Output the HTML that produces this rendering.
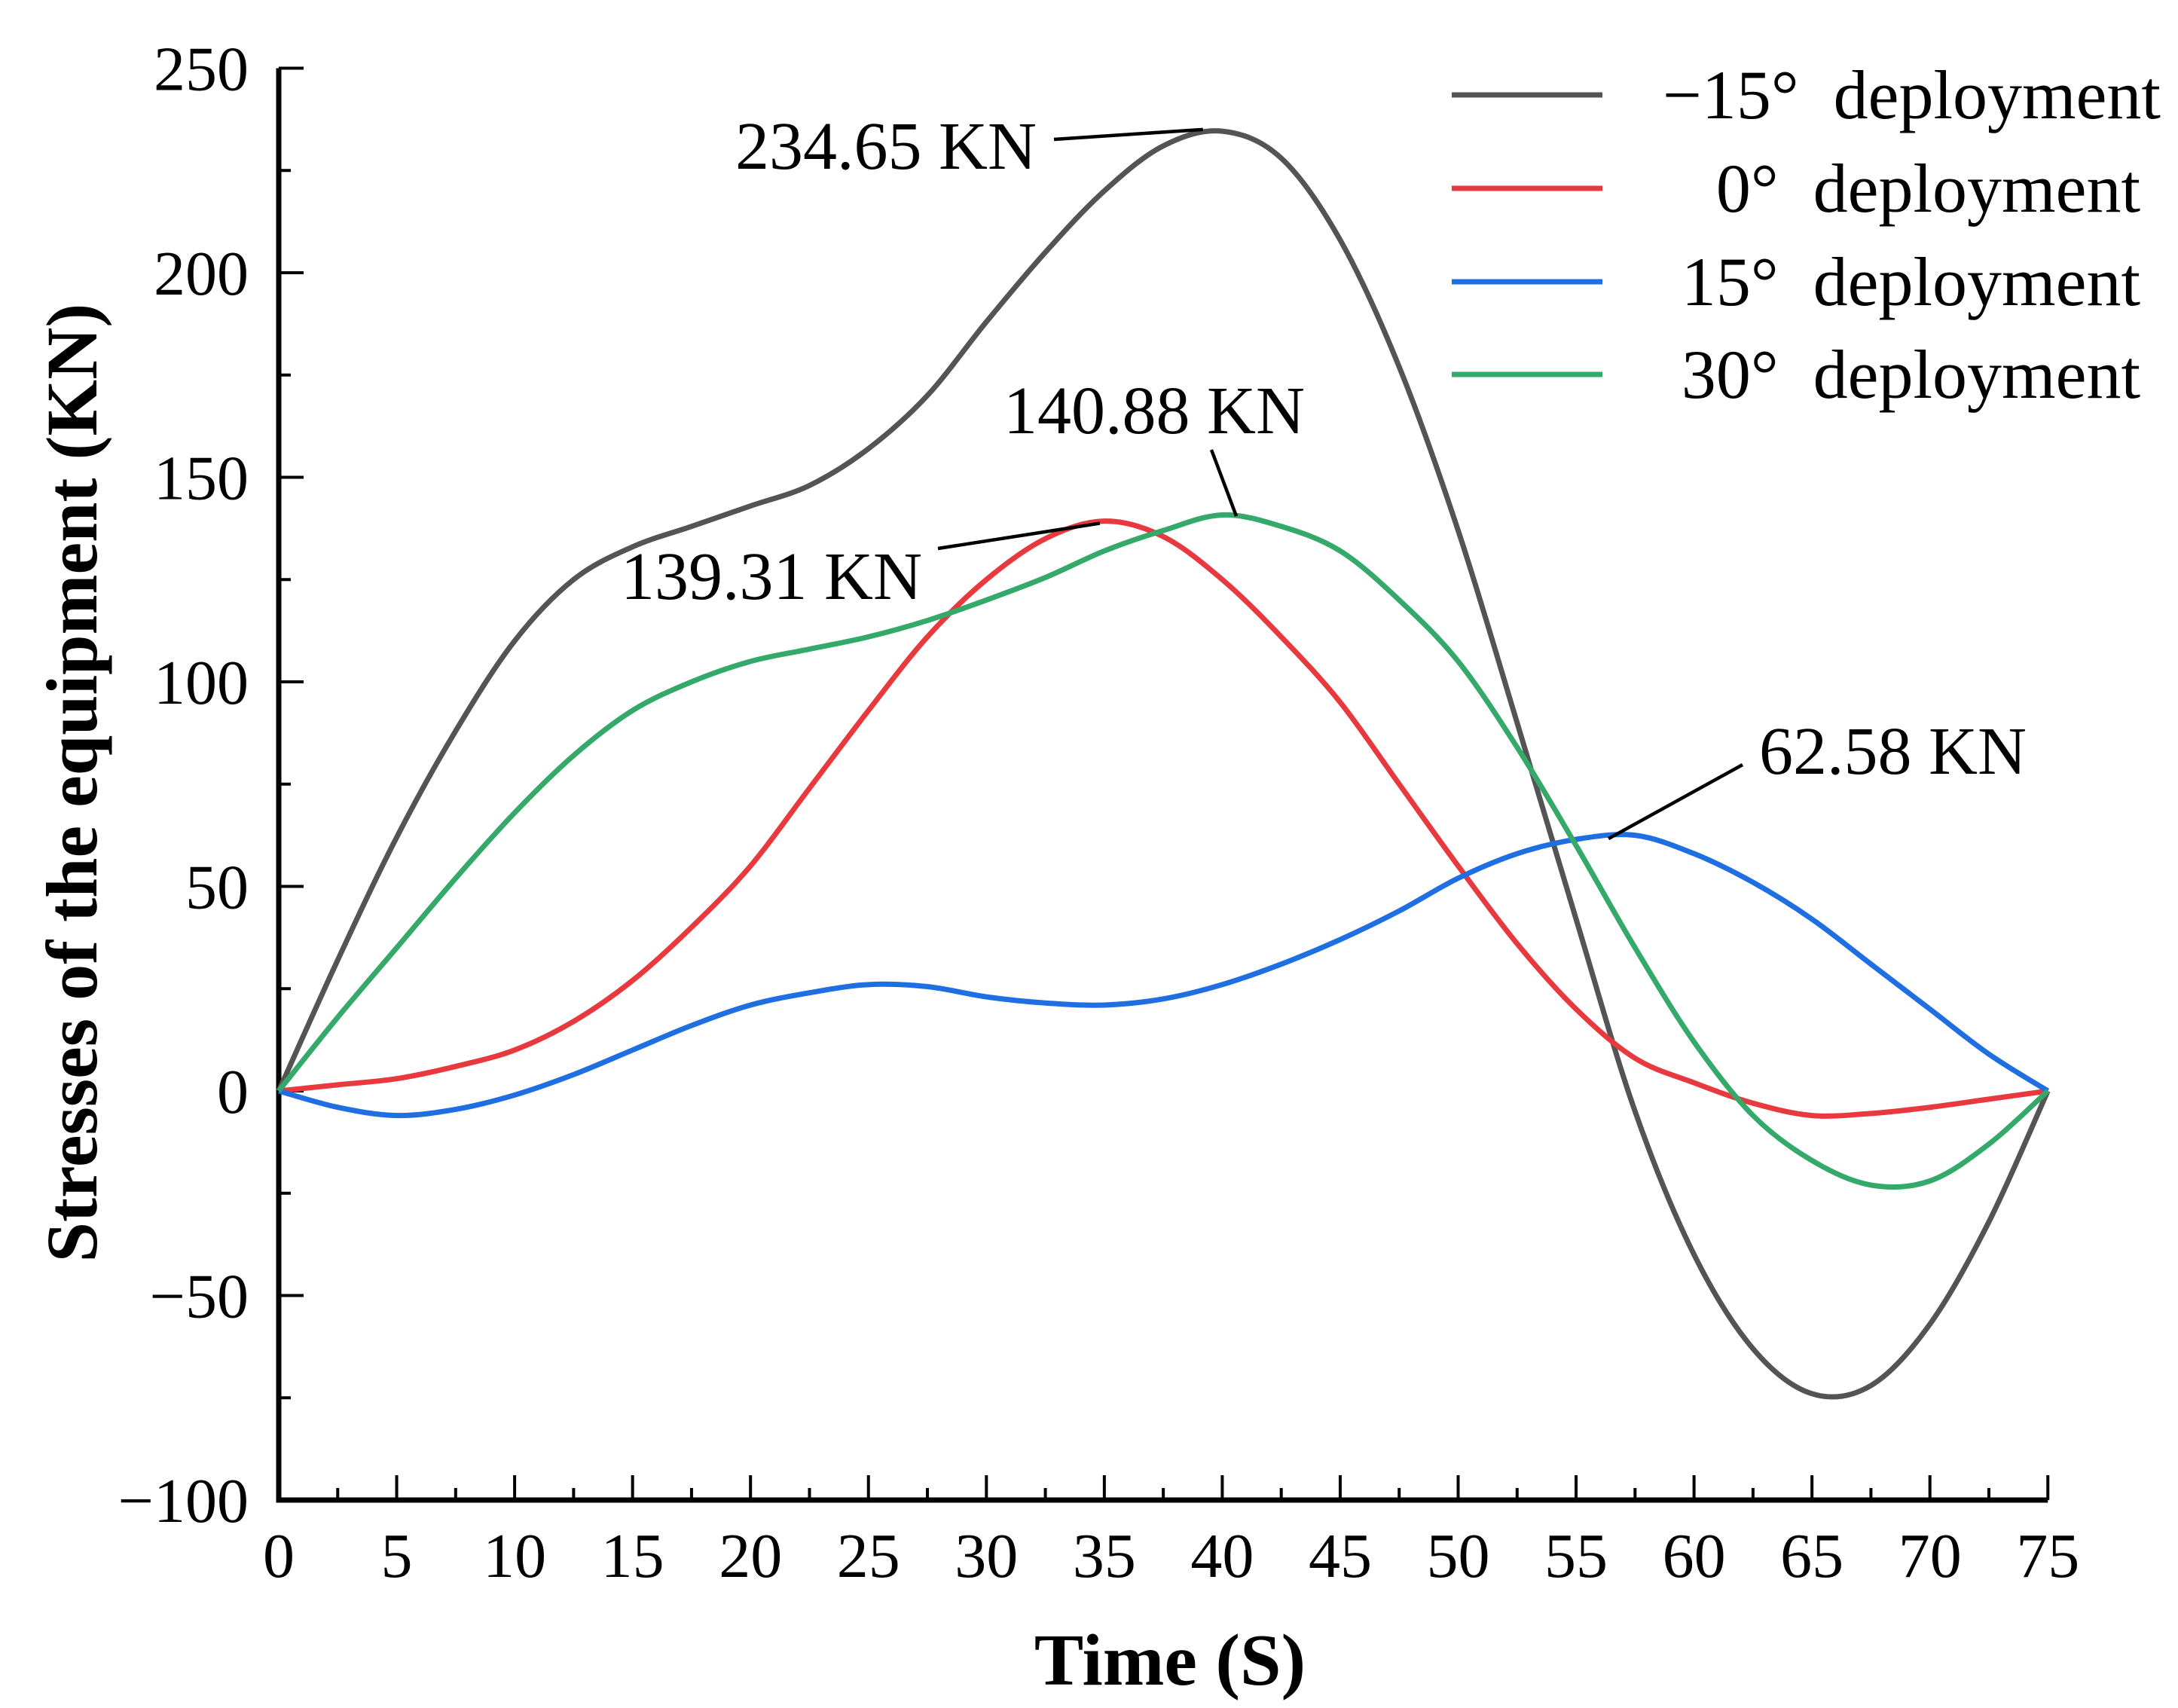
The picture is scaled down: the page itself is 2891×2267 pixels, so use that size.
<!DOCTYPE html>
<html><head><meta charset="utf-8"><style>
html,body{margin:0;padding:0;background:#fff;}
svg{display:block;font-family:"Liberation Serif","DejaVu Serif",serif;}
</style></head><body>
<svg id="chart" width="2891" height="2267" viewBox="0 0 2891 2267" xmlns="http://www.w3.org/2000/svg">
<g id="axes"></g>
<g id="series"></g>
<g id="annots"></g>
<g id="legend"></g>
<text x="1553" y="2236" font-size="98" font-weight="bold" text-anchor="middle">Time (S)</text>
<text transform="translate(128,1039) rotate(-90)" font-size="96" font-weight="bold" text-anchor="middle">Stresses of the equipment (KN)</text>
</svg>
<script>
const times = [0,2.5,5,7.5,10,12.5,15,17.5,20,22.5,25,27.5,30,32.5,35,37.5,40,42.5,45,47.5,50,52.5,55,57.5,60,62.5,65,67.5,70,72.5,75];
const seriesNeg15 = [0,32,62,88,110,125,133,138,143,148,157,170,188,205,220,231,234.6,228,208,177,137,90,42,-5,-40,-63,-74,-72,-57,-32,0];
const series0 = [0,1.5,3,6,10,17,27,40,55,74,93,111,125,135,139.3,135.5,125,111,95,75,55,36,20,8,2,-3,-6,-5.5,-4,-2,0];
const series15 = [0,-4,-6,-4.5,-1,4,10,16,21,24,26,25.5,23,21.5,21,22.5,26,31,37,44,52,58,61.5,62.5,58,51,42,31,20,9,0];
const series30 = [0,18,35,52,68,82,93,100,105,108,111,115,120,125.5,132,137,140.8,138,132,120,105,84,60,35,12,-6,-17,-23,-22,-13,0];
const seriesNames = ["−15°  deployment","0°  deployment","15°  deployment","30°  deployment"];
const xTicks = [0,5,10,15,20,25,30,35,40,45,50,55,60,65,70,75];
const yTicks = [-100,-50,0,50,100,150,200,250];
const peakValues = [234.65,140.88,139.31,62.58];
const peakTimes = [39.5,40.5,35,56.5];

const X0=370, XS=31.31, Y0=1448, YS=5.43;
const xs = t => X0 + t*XS;
const ys = v => Y0 - v*YS;
const NS="http://www.w3.org/2000/svg";
function mk(tag, attrs, parent){const e=document.createElementNS(NS,tag);for(const k in attrs)e.setAttribute(k,attrs[k]);parent.appendChild(e);return e;}

const axes=document.getElementById('axes');
const yTop=ys(250), yBot=ys(-100), xR=xs(75);
for(let v=-100; v<=250; v+=25){
  const major = v%50===0;
  const t=mk('line',{x1:X0,x2:X0+(major?33:16),y1:ys(v),y2:ys(v),stroke:'#000','stroke-width':4},axes);
  
  
}
for(let t=0; t<=75; t+=2.5){
  const major = t%5===0;
  const l=mk('line',{x1:xs(t),x2:xs(t),y1:yBot,y2:yBot-(major?33:16),stroke:'#000','stroke-width':4},axes);
  
  
}
const ya=mk('line',{x1:X0,x2:X0,y1:yTop,y2:yBot+3.5,stroke:'#000','stroke-width':7},axes);


const xa=mk('line',{x1:X0-3.5,x2:xR,y1:yBot,y2:yBot,stroke:'#000','stroke-width':7},axes);


yTicks.forEach(v=>{
  const t=mk('text',{x:330,y:ys(v)+29,'font-size':84,'text-anchor':'end'},axes);
  t.textContent = v<0 ? '−'+Math.abs(v) : String(v);
  
  
});
xTicks.forEach(v=>{
  const t=mk('text',{x:xs(v),y:2093,'font-size':84,'text-anchor':'middle'},axes);
  t.textContent = String(v);
  
  
});

function pathFor(vals){
  const p=times.map((t,i)=>[xs(t),ys(vals[i])]);
  let d='M'+p[0][0]+','+p[0][1];
  for(let i=0;i<p.length-1;i++){
    const p0=p[Math.max(0,i-1)],p1=p[i],p2=p[i+1],p3=p[Math.min(p.length-1,i+2)];
    const c1=[p1[0]+(p2[0]-p0[0])/6,p1[1]+(p2[1]-p0[1])/6];
    const c2=[p2[0]-(p3[0]-p1[0])/6,p2[1]-(p3[1]-p1[1])/6];
    d+=' C'+c1[0]+','+c1[1]+' '+c2[0]+','+c2[1]+' '+p2[0]+','+p2[1];
  }
  return d;
}
const sg=document.getElementById('series');
const allSeries=[seriesNeg15,series0,series15,series30];
const colors=['#545454','#e8393f','#1f6fe2','#35a96a'];
const snames=['series-neg15-deployment','series-0-deployment','series-15-deployment','series-30-deployment'];
allSeries.forEach((s,i)=>{
  const p=mk('path',{d:pathFor(s),fill:'none',stroke:colors[i],'stroke-width':7,'stroke-linejoin':'round'},sg);
  
  
});

const an=document.getElementById('annots');
const annDefs=[
  {tx:1376,ty:224,anchor:'end',l:[1399,185,xs(peakTimes[0])-10,ys(peakValues[0])-2]},
  {tx:1532,ty:575,anchor:'middle',l:[1608,597,xs(peakTimes[1])+3,ys(peakValues[1])+2]},
  {tx:1224,ty:795,anchor:'end',l:[1245,728,xs(peakTimes[2])-6,ys(peakValues[2])+3]},
  {tx:2335,ty:1027,anchor:'start',l:[2313,1015,xs(peakTimes[3])-4,ys(peakValues[3])+5]}
];
annDefs.forEach((a,i)=>{
  const ln=mk('line',{x1:a.l[0],y1:a.l[1],x2:a.l[2],y2:a.l[3],stroke:'#000','stroke-width':4.5},an);
  
  
  const t=mk('text',{x:a.tx,y:a.ty,'font-size':90,'text-anchor':a.anchor},an);
  t.textContent=peakValues[i].toFixed(2)+' KN';
  
  
});

const lg=document.getElementById('legend');
const legY=[126,250,374,497];
seriesNames.forEach((n,i)=>{
  const ln=mk('line',{x1:1927,x2:2127,y1:legY[i],y2:legY[i],stroke:colors[i],'stroke-width':7},lg);
  
  
  const t=mk('text',{x:i===0?2868:2841,y:legY[i]+31,'font-size':92,'text-anchor':'end'},lg);
  t.setAttribute('xml:space','preserve');
  t.style.whiteSpace='pre';
  t.textContent=n;
  
  
});
</script>
</body></html>
